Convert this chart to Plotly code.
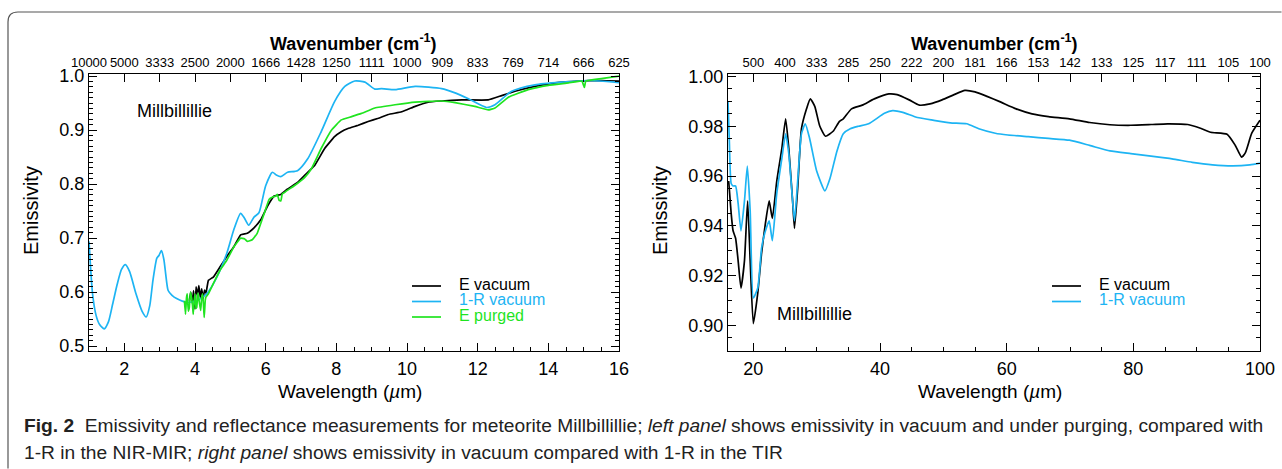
import plotly.graph_objects as go

W, H = 1282, 469

# ---------------- data: left panel (NIR-MIR) ----------------
lam_L_E = [3.84, 3.88, 3.92, 3.96, 4.00, 4.03, 4.07, 4.11, 4.15, 4.19, 4.23, 4.27, 4.31, 4.38,
           4.52, 4.71, 4.90, 5.10, 5.29, 5.48, 5.67, 5.86, 6.05, 6.24, 6.43, 6.62, 6.90, 7.19,
           7.38, 7.67, 7.95, 8.14, 8.33, 8.62, 8.90, 9.19, 9.47, 9.85, 10.23, 10.60, 10.98,
           11.55, 12.30, 12.68, 13.06, 13.62, 14.19, 14.85, 15.50, 16.00]
emis_L_E = [0.584, 0.600, 0.580, 0.603, 0.569, 0.610, 0.595, 0.612, 0.590, 0.606, 0.588, 0.604, 0.598, 0.622,
            0.628, 0.647, 0.666, 0.684, 0.706, 0.709, 0.719, 0.734, 0.759, 0.778, 0.781, 0.791, 0.803, 0.822,
            0.834, 0.866, 0.888, 0.897, 0.903, 0.909, 0.916, 0.922, 0.929, 0.934, 0.944, 0.952, 0.954,
            0.956, 0.956, 0.964, 0.972, 0.981, 0.9875, 0.991, 0.992, 0.991]

lam_L_1R = [1.00, 1.05, 1.10, 1.20, 1.30, 1.43, 1.55, 1.67, 1.80, 1.92, 2.03, 2.15, 2.33, 2.50, 2.62,
            2.72, 2.81, 2.92, 2.98, 3.05, 3.12, 3.17, 3.24, 3.35, 3.48, 3.76, 4.05, 4.33, 4.62, 4.90,
            5.10, 5.29, 5.40, 5.52, 5.67, 5.81, 6.00, 6.19, 6.30, 6.43, 6.62, 6.90, 7.19, 7.57, 7.95,
            8.24, 8.52, 8.81, 9.09, 9.28, 9.66, 10.23, 10.98, 11.36, 11.74, 12.25, 12.49, 12.96, 13.62,
            14.38, 15.13, 15.88, 16.00]
emis_L_1R = [0.694, 0.640, 0.597, 0.557, 0.540, 0.532, 0.545, 0.578, 0.615, 0.642, 0.651, 0.638, 0.597, 0.565, 0.554,
             0.575, 0.622, 0.663, 0.668, 0.677, 0.660, 0.634, 0.603, 0.594, 0.588, 0.581, 0.584, 0.597, 0.628, 0.672,
             0.716, 0.746, 0.737, 0.724, 0.739, 0.747, 0.797, 0.822, 0.817, 0.814, 0.822, 0.825, 0.847, 0.897, 0.953,
             0.981, 0.991, 0.989, 0.976, 0.977, 0.975, 0.981, 0.977, 0.969, 0.958, 0.942, 0.947, 0.972, 0.984,
             0.989, 0.992, 0.989, 0.988]

lam_L_P = [3.70, 3.73, 3.76, 3.78, 3.81, 3.84, 3.87, 3.90, 3.93, 3.95, 3.98, 4.00, 4.03, 4.05, 4.08,
           4.10, 4.13, 4.16, 4.19, 4.22, 4.26, 4.29, 4.31, 4.38, 4.52, 4.71, 4.90, 5.10, 5.29, 5.40,
           5.48, 5.62, 5.76, 5.95, 6.10, 6.20, 6.29, 6.33, 6.38, 6.43, 6.47, 6.52, 6.60, 6.81, 7.10,
           7.29, 7.57, 7.86, 8.14, 8.43, 8.71, 9.09, 9.66, 10.23, 10.98, 11.36, 11.92, 12.30, 12.49,
           12.87, 13.43, 14.00, 14.57, 14.95, 15.02, 15.06, 15.50, 16.00]
emis_L_P = [0.584, 0.559, 0.590, 0.597, 0.565, 0.572, 0.600, 0.591, 0.575, 0.559, 0.585, 0.597, 0.570, 0.572, 0.598,
            0.591, 0.578, 0.566, 0.590, 0.597, 0.553, 0.585, 0.591, 0.597, 0.616, 0.641, 0.659, 0.684, 0.700, 0.699,
            0.694, 0.697, 0.709, 0.744, 0.772, 0.776, 0.778, 0.781, 0.770, 0.769, 0.782, 0.784, 0.788, 0.797, 0.812,
            0.828, 0.866, 0.900, 0.919, 0.925, 0.931, 0.941, 0.947, 0.952, 0.954, 0.951, 0.944, 0.9375, 0.941,
            0.961, 0.975, 0.983, 0.9875, 0.991, 0.979, 0.991, 0.9955, 1.000]

# ---------------- data: right panel (TIR) ----------------
lam_R_E = [16.1, 16.2, 16.5, 16.8, 17.2, 17.6, 18.05, 18.6, 19.1, 19.5, 20.0, 20.7, 21.3, 21.8, 22.5,
           23.0, 23.7, 24.5, 25.1, 25.6, 26.2, 26.5, 27.0, 27.6, 28.4, 29.0, 29.7, 30.5, 31.4, 32.6,
           33.6, 34.2, 35.5, 37.2, 39.1, 41.4, 42.7, 44.6, 46.2, 47.9, 49.8, 51.7, 53.4, 55.0, 56.9,
           58.9, 61.5, 64.0, 66.6, 69.9, 73.1, 76.3, 79.6, 82.8, 85.4, 88.6, 90.6, 92.2, 94.8, 96.1,
           97.1, 97.7, 98.7, 100.0]
emis_R_E = [0.958, 0.955, 0.945, 0.938, 0.935, 0.926, 0.915, 0.926, 0.950, 0.926, 0.9007, 0.913, 0.929, 0.939, 0.950,
            0.943, 0.958, 0.971, 0.983, 0.971, 0.950, 0.939, 0.955, 0.979, 0.987, 0.991, 0.988, 0.980, 0.976, 0.978,
            0.982, 0.983, 0.987, 0.9885, 0.991, 0.993, 0.9927, 0.9906, 0.9885, 0.989, 0.9906, 0.9927, 0.9944, 0.9938, 0.992,
            0.9899, 0.987, 0.985, 0.9839, 0.983, 0.9815, 0.9806, 0.9804, 0.9807, 0.981, 0.9807, 0.9792, 0.9776, 0.9768, 0.9723,
            0.9676, 0.9694, 0.9772, 0.9824]

lam_R_1R = [16.0, 16.2, 16.5, 16.8, 17.2, 17.6, 18.05, 18.6, 19.05, 19.5, 20.0, 20.7, 21.3, 21.8, 22.5,
            23.0, 23.7, 24.5, 25.1, 25.6, 26.2, 26.5, 27.0, 27.6, 28.2, 28.9, 30.0, 31.3, 32.1, 33.2,
            34.2, 35.3, 36.6, 38.2, 40.7, 42.0, 43.6, 45.9, 48.5, 51.1, 53.7, 55.6, 58.2, 60.2, 63.4,
            66.6, 69.9, 73.1, 76.3, 79.6, 82.8, 86.1, 89.3, 92.5, 95.7, 98.4, 100.0]
emis_R_1R = [0.990, 0.975, 0.957, 0.956, 0.956, 0.949, 0.938, 0.950, 0.964, 0.946, 0.911, 0.915, 0.931, 0.937, 0.942,
             0.934, 0.953, 0.967, 0.977, 0.969, 0.950, 0.942, 0.958, 0.977, 0.981, 0.975, 0.962, 0.954, 0.959, 0.970,
             0.977, 0.979, 0.980, 0.981, 0.9852, 0.9863, 0.9856, 0.9835, 0.9824, 0.9814, 0.981, 0.979, 0.9772, 0.9765, 0.9758,
             0.9751, 0.9744, 0.9723, 0.9701, 0.969, 0.968, 0.9669, 0.9655, 0.9645, 0.9641, 0.9645, 0.9652]

# ---------------- ticks / labels ----------------
left_bottom_ticks = [2, 4, 6, 8, 10, 12, 14, 16]
left_top_ticks = list(range(1, 17))
left_top_labels = ["10000", "5000", "3333", "2500", "2000", "1666", "1428", "1250",
                   "1111", "1000", "909", "833", "769", "714", "666", "625"]
left_y_ticks = [0.5, 0.6, 0.7, 0.8, 0.9, 1.0]
right_bottom_ticks = [20, 40, 60, 80, 100]
right_top_ticks = list(range(20, 101, 5))
right_top_labels = ["500", "400", "333", "285", "250", "222", "200", "181", "166",
                    "153", "142", "133", "125", "117", "111", "105", "100"]
right_y_ticks = [0.90, 0.92, 0.94, 0.96, 0.98, 1.00]

left_names = ["E vacuum", "1-R vacuum", "E purged"]
right_names = ["E vacuum", "1-R vacuum"]

BLACK = "#000000"
BLUE = "#1db4f3"
GREEN = "#1fe41f"
FONT = "Liberation Sans, Arial, Helvetica, sans-serif"
CAPFONT = "Liberation Sans, Arial, sans-serif"


def px(x):
    return x / W


def py(y):
    return 1 - y / H


LW = 1.7
fig = go.Figure()


def line_trace(x, y, color, xa, ya, smooth=0.5):
    return go.Scatter(x=x, y=y, mode="lines", xaxis=xa, yaxis=ya, showlegend=False,
                      hoverinfo="skip",
                      line=dict(color=color, width=LW, shape="spline", smoothing=smooth))


# left panel
fig.add_trace(line_trace(lam_L_E, emis_L_E, BLACK, "x", "y", 0.3))
fig.add_trace(line_trace(lam_L_1R, emis_L_1R, BLUE, "x", "y", 0.6))
fig.add_trace(line_trace(lam_L_P, emis_L_P, GREEN, "x", "y", 0.3))
# invisible trace to activate the top (wavenumber) axis
fig.add_trace(go.Scatter(x=lam_L_1R, y=emis_L_1R, mode="lines", xaxis="x2", yaxis="y",
                         opacity=0, showlegend=False, hoverinfo="skip"))
# right panel
fig.add_trace(line_trace(lam_R_E, emis_R_E, BLACK, "x3", "y2", 0.5))
fig.add_trace(line_trace(lam_R_1R, emis_R_1R, BLUE, "x3", "y2", 0.5))
fig.add_trace(go.Scatter(x=lam_R_1R, y=emis_R_1R, mode="lines", xaxis="x4", yaxis="y2",
                         opacity=0, showlegend=False, hoverinfo="skip"))

LEFT_DOM = [px(89), px(619)]
RIGHT_DOM = [px(728), px(1260)]
Y_DOM = [py(351), py(74)]

common = dict(showgrid=False, zeroline=False, showline=True, linecolor="black", linewidth=1.3,
              ticks="inside", tickcolor="black", tickwidth=1.2, ticklen=8, automargin=False)

fig.update_layout(
    width=W, height=H, autosize=False,
    margin=dict(l=0, r=0, t=0, b=0, pad=0),
    paper_bgcolor="white", plot_bgcolor="white",
    font=dict(family=FONT, color="black"),
    showlegend=False,
    xaxis=dict(domain=LEFT_DOM, range=[1, 16], anchor="y", tickvals=left_bottom_ticks,
               tickfont=dict(size=18), ticklabelstandoff=1, tickangle=0,
               minor=dict(tick0=1, dtick=0.5, ticklen=4, ticks="inside", tickcolor="black"),
               **common),
    xaxis2=dict(overlaying="x", side="top", anchor="y", range=[1, 16], tickvals=left_top_ticks,
                ticktext=left_top_labels, tickfont=dict(size=13), ticklabelstandoff=1, tickangle=0,
                **common),
    yaxis=dict(domain=Y_DOM, range=[0.491, 1.004], anchor="x", tickvals=left_y_ticks, tickformat=".1f",
               tickfont=dict(size=18), mirror="ticks", ticklabelstandoff=0,
               minor=dict(tick0=0, dtick=0.01, ticklen=4, ticks="inside", tickcolor="black"),
               **common),
    xaxis3=dict(domain=RIGHT_DOM, range=[16, 100], anchor="y2", tickvals=right_bottom_ticks,
                tickfont=dict(size=18), ticklabelstandoff=1, tickangle=0,
                minor=dict(tick0=0, dtick=5, ticklen=4, ticks="inside", tickcolor="black"),
                **common),
    xaxis4=dict(overlaying="x3", side="top", anchor="y2", range=[16, 100], tickvals=right_top_ticks,
                ticktext=right_top_labels, tickfont=dict(size=13), ticklabelstandoff=1, tickangle=0,
                **common),
    yaxis2=dict(domain=Y_DOM, range=[0.8897, 1.001], anchor="x3", tickvals=right_y_ticks, tickformat=".2f",
                tickfont=dict(size=18), mirror="ticks", ticklabelstandoff=0,
                minor=dict(tick0=0, dtick=0.005, ticklen=4, ticks="inside", tickcolor="black"),
                **common),
)

ann = []
shapes = []

# axis titles
for cx in (354, 994):
    ann.append(dict(x=px(cx), y=py(42), xref="paper", yref="paper", showarrow=False,
                    text="<b>Wavenumber (cm<sup>-1</sup>)</b>", font=dict(size=18),
                    xanchor="center", yanchor="middle"))
    ann.append(dict(x=px(cx - 4), y=py(391), xref="paper", yref="paper", showarrow=False,
                    text="Wavelength (<i>µ</i>m)", font=dict(size=19),
                    xanchor="center", yanchor="middle"))
for cx in (31, 660):
    ann.append(dict(x=px(cx), y=py(211), xref="paper", yref="paper", showarrow=False,
                    text="Emissivity", textangle=-90, font=dict(size=20),
                    xanchor="center", yanchor="middle"))

# sample names
ann.append(dict(x=2.3, y=0.935, xref="x", yref="y", showarrow=False, text="Millbillillie",
                font=dict(size=18), xanchor="left", yanchor="middle"))
ann.append(dict(x=23.4, y=0.9045, xref="x3", yref="y2", showarrow=False, text="Millbillillie",
                font=dict(size=18), xanchor="left", yanchor="middle"))

# legends (drawn manually to match IDL style)
left_colors = [BLACK, BLUE, GREEN]
right_colors = [BLACK, BLUE]
row_y = [284, 299.5, 315]
for names, colors, x0 in ((left_names, left_colors, 412), (right_names, right_colors, 1052)):
    for i, (nm, col) in enumerate(zip(names, colors)):
        shapes.append(dict(type="line", xref="paper", yref="paper",
                           x0=px(x0), x1=px(x0 + 29), y0=py(row_y[i] + 2), y1=py(row_y[i] + 2),
                           line=dict(color=col, width=LW)))
        ann.append(dict(x=px(x0 + 45), y=py(row_y[i]), xref="paper", yref="paper", showarrow=False,
                        text=nm, font=dict(size=16, color=col), xanchor="left", yanchor="middle"))

# caption
ann.append(dict(x=px(22), y=py(425), xref="paper", yref="paper", showarrow=False,
                xanchor="left", yanchor="middle", font=dict(family=CAPFONT, size=19.2, color="#222"),
                text="<b>Fig. 2</b>  Emissivity and reflectance measurements for meteorite Millbillillie; "
                     "<i>left panel</i> shows emissivity in vacuum and under purging, compared with"))
ann.append(dict(x=px(22), y=py(452), xref="paper", yref="paper", showarrow=False,
                xanchor="left", yanchor="middle", font=dict(family=CAPFONT, size=19.2, color="#222"),
                text="1-R in the NIR-MIR; <i>right panel</i> shows emissivity in vacuum compared with 1-R in the TIR"))

# rounded frame around figure (kept inside the page)
r = 10
path = (f"M {px(8)},{py(H - 0.5)} L {px(8)},{py(12 + r)} "
        f"Q {px(8)},{py(12)} {px(8 + r)},{py(12)} L {px(W - 0.5)},{py(12)}")
shapes.append(dict(type="path", xref="paper", yref="paper", path=path,
                   line=dict(color="#555555", width=1.2)))

fig.update_layout(annotations=ann, shapes=shapes)
fig.write_html("out.html")
